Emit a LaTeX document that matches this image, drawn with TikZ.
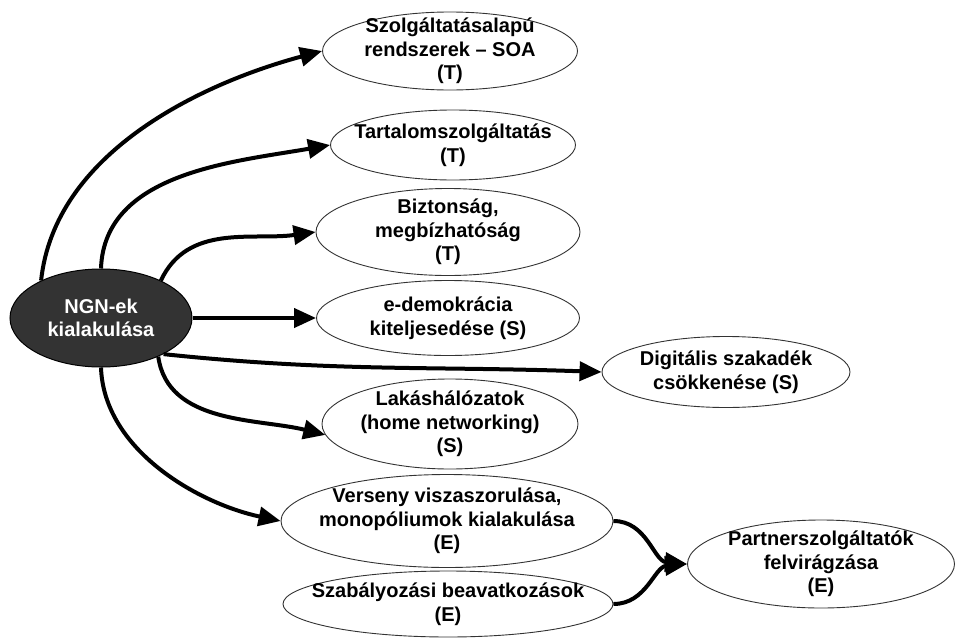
\documentclass[tikz,border=0pt]{standalone}
\usepackage{fontspec}
\setmainfont{Liberation Sans}
\usetikzlibrary{shapes.geometric,arrows.meta}

\begin{document}
\begin{tikzpicture}[x=1pt,y=1pt,
  topic/.style={ellipse, draw=black!80, line width=0.9pt, fill=white, inner sep=0pt},
  hub/.style={ellipse, draw=black, line width=1pt, fill=black!80, inner sep=0pt},
  caption/.style={align=center, inner sep=0pt, font=\fontsize{20}{23.5}\selectfont\bfseries},
  link/.style={line width=4pt, -{Triangle[length=22pt,width=19pt]}}]

\useasboundingbox (0,0) rectangle (956,-640);

% central node
\node[hub, minimum width=182, minimum height=98] (ngn) at (101,-318) {};
\node[caption, text=white] (ngn-t) at (ngn.center) {NGN-ek\\kialakulása};

% outcome nodes
\node[topic, minimum width=255, minimum height=78] (soa) at (450,-51) {};
\node[caption] (soa-t) at (soa.center) {Szolgáltatásalapú\\rendszerek – SOA\\(T)};

\node[topic, minimum width=245, minimum height=70] (tart) at (453,-145) {};
\node[caption] (tart-t) at (tart.center) {Tartalomszolgáltatás\\(T)};

\node[topic, minimum width=264, minimum height=87] (bizt) at (448,-232) {};
\node[caption] (bizt-t) at (bizt.center) {Biztonság,\\megbízhatóság\\(T)};

\node[topic, minimum width=263, minimum height=75] (edem) at (448,-318) {};
\node[caption] (edem-t) at (edem.center) {e-demokrácia\\kiteljesedése (S)};

\node[topic, minimum width=248, minimum height=71] (digi) at (726,-372) {};
\node[caption] (digi-t) at (digi.center) {Digitális szakadék\\csökkenése (S)};

\node[topic, minimum width=256, minimum height=90] (lakas) at (450,-424) {};
\node[caption] (lakas-t) at (lakas.center) {Lakáshálózatok\\(home networking)\\(S)};

\node[topic, minimum width=332, minimum height=93] (vers) at (447,-521) {};
\node[caption] (vers-t) at (vers.center) {Verseny viszaszorulása,\\monopóliumok kialakulása\\(E)};

\node[topic, minimum width=330, minimum height=66] (szab) at (448,-604) {};
\node[caption] (szab-t) at (szab.center) {Szabályozási beavatkozások\\(E)};

\node[topic, minimum width=267, minimum height=88] (part) at (821,-564) {};
\node[caption] (part-t) at (part.center) {Partnerszolgáltatók\\felvirágzása\\(E)};

% connectors
\draw[link] (ngn.148) to[out=84,in=195,looseness=0.9] (soa.west);
\draw[link] (ngn.north) to[out=88,in=190,looseness=0.95] (tart.west);
\draw[link] (ngn.32) to[out=65,in=188] (bizt.west);
\draw[link] (ngn.east) -- (edem.west);
\draw[link] (ngn.-30) to[out=-6,in=178] (digi.west);
\draw[link] (ngn.-34) to[out=-82,in=166,looseness=0.95] (lakas.185);
\draw[link] (ngn.south) to[out=-88,in=168,looseness=0.9] (vers.west);
\draw[link] (vers.east) to[out=0,in=175] (part.west);
\draw[link] (szab.east) to[out=0,in=185] (part.west);
\end{tikzpicture}
\end{document}
